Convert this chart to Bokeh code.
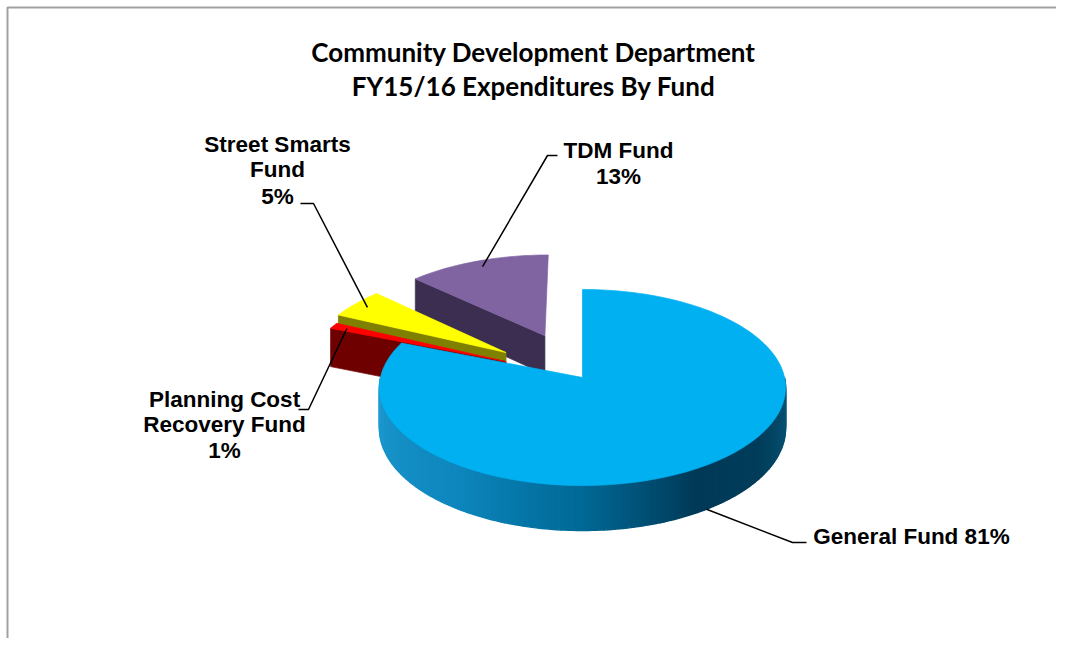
import numpy as np
from bokeh.plotting import figure
from bokeh.models import Range1d
from bokeh.core.properties import value
from bokeh.embed import file_html
from bokeh.resources import INLINE

# ---------------- data ----------------
funds = ["General Fund", "Planning Cost Recovery Fund", "Street Smarts Fund", "TDM Fund"]
shares = [81, 1, 5, 13]
label_lines = [["General Fund 81%"],
               ["Planning Cost", "Recovery Fund", "1%"],
               ["Street Smarts", "Fund", "5%"],
               ["TDM Fund", "13%"]]
title_lines = ["Community Development Department", "FY15/16 Expenditures By Fund"]

# ---------------- style / layout ----------------
top_colors = ["#00B0F0", "#FF0000", "#FFFF00", "#8064A2"]
cut_colors = ["#0A7FB0", "#6E0000", "#808000", "#3B2E50"]
explode = [0.0, 0.42, 0.47, 0.49]
label_x = [911, 224, 277, 618]
label_y = [[536], [399, 424, 450], [144, 169, 196], [150, 176]]
elbows = [[(806, 542), (792, 542)], [(298, 409), (308, 409)],
          [(300, 203), (313, 203)], [(557, 155), (547, 155)]]

CX, CY, RX, RY, PERSP, DEPTH = 582, 377, 202, 97, 0.102, 40.4

# side gradient stops (clockwise angle from 12 o'clock, rgb)
grad_phi = [90, 125, 150, 180, 215, 270]
grad_rgb = [(12, 92, 128), (2, 62, 92), (0, 58, 88), (0, 105, 150), (14, 135, 190), (30, 155, 210)]


def proj(u, w, z):
    u = np.asarray(u, float)
    w = np.asarray(w, float)
    v = -w
    den = 1 - PERSP * v
    return CX + RX * u / den, CY + (RY * v + DEPTH * z) / den


def grad_color(phi):
    r = np.interp(phi, grad_phi, [c[0] for c in grad_rgb])
    g = np.interp(phi, grad_phi, [c[1] for c in grad_rgb])
    b = np.interp(phi, grad_phi, [c[2] for c in grad_rgb])
    return "#%02x%02x%02x" % (int(r), int(g), int(b))


total = float(sum(shares))
bounds = np.concatenate([[0], np.cumsum(shares)]) / total * 360.0

slices = []
for i in range(len(shares)):
    p1, p2 = bounds[i], bounds[i + 1]
    mid = np.radians((p1 + p2) / 2)
    ou, ow = explode[i] * np.sin(mid), explode[i] * np.cos(mid)
    slices.append(dict(i=i, p1=p1, p2=p2, mid=mid, ou=ou, ow=ow))

order = sorted(slices, key=lambda s: -s["ow"])

xs, ys, cols, lws = [], [], [], []


def add(px, py, c, lw=0.7):
    xs.append(list(px))
    ys.append(list(py))
    cols.append(c)
    lws.append(lw)


for s in order:
    i, p1, p2, ou, ow = s["i"], s["p1"], s["p2"], s["ou"], s["ow"]
    # cut faces
    for phi, visible in ((p1, np.sin(np.radians(p1)) < -1e-6), (p2, np.sin(np.radians(p2)) > 1e-6)):
        if visible:
            a = np.radians(phi)
            uu = [ou, ou + np.sin(a), ou + np.sin(a), ou]
            ww = [ow, ow + np.cos(a), ow + np.cos(a), ow]
            zz = np.array([0, 0, 1, 1])
            px, py = proj(uu, ww, zz)
            add(px, py, cut_colors[i])
    # outer rim (front half)
    lo, hi = max(p1, 90.0), min(p2, 270.0)
    if hi > lo:
        edges = np.linspace(lo, hi, int(hi - lo) + 2)
        for a0, a1 in zip(edges[:-1], edges[1:]):
            aa = np.radians([a0, a1, a1, a0])
            uu = ou + np.sin(aa)
            ww = ow + np.cos(aa)
            zz = np.array([0, 0, 1, 1])
            px, py = proj(uu, ww, zz)
            add(px, py, grad_color((a0 + a1) / 2), 1.4)
    # top face
    arc = np.radians(np.linspace(p1, p2, max(4, int((p2 - p1) / 1.5) + 2)))
    uu = np.concatenate([[ou], ou + np.sin(arc)])
    ww = np.concatenate([[ow], ow + np.cos(arc)])
    px, py = proj(uu, ww, np.zeros(len(uu)))
    add(px, py, top_colors[i])

p = figure(width=1056, height=638, x_range=Range1d(0, 1056), y_range=Range1d(638, 0),
           output_backend="svg", toolbar_location=None, min_border=0)
p.axis.visible = False
p.grid.visible = False
p.outline_line_color = None
p.background_fill_color = "white"
p.border_fill_color = "white"

# chart frame (top & left edges visible)
p.line(x=[7, 7, 1056], y=[638, 7, 7], line_color="#a0a0a0", line_width=2)

p.patches(xs=xs, ys=ys, fill_color=cols, line_color=cols, line_width=lws)

# leader lines
for s in slices:
    i = s["i"]
    mid, ou, ow = s["mid"], s["ou"], s["ow"]
    if np.cos(mid) < 0:
        ex, ey = proj([ou + np.sin(mid)], [ow + np.cos(mid)], 1)
    else:
        ex, ey = proj([ou + 0.92 * np.sin(mid)], [ow + 0.92 * np.cos(mid)], 0)
    (x0, y0), (x1, y1) = elbows[i]
    p.line(x=[x0, x1, float(ex[0])], y=[y0, y1, float(ey[0])], line_color="black", line_width=1.5)

# labels
for i in range(len(funds)):
    for line, y in zip(label_lines[i], label_y[i]):
        p.text(x=[label_x[i]], y=[y], text=[line], text_font=value("Liberation Sans"),
               text_font_style="bold", text_font_size="22.5px", text_align="center",
               text_baseline="middle", text_color="black")

for line, y in zip(title_lines, [51, 85]):
    p.text(x=[533], y=[y], text=[line], text_font=value("Lato"), text_font_style="bold",
           text_font_size="26px", text_align="center", text_baseline="middle", text_color="black")

open("out.html", "w").write(file_html(p, INLINE))
